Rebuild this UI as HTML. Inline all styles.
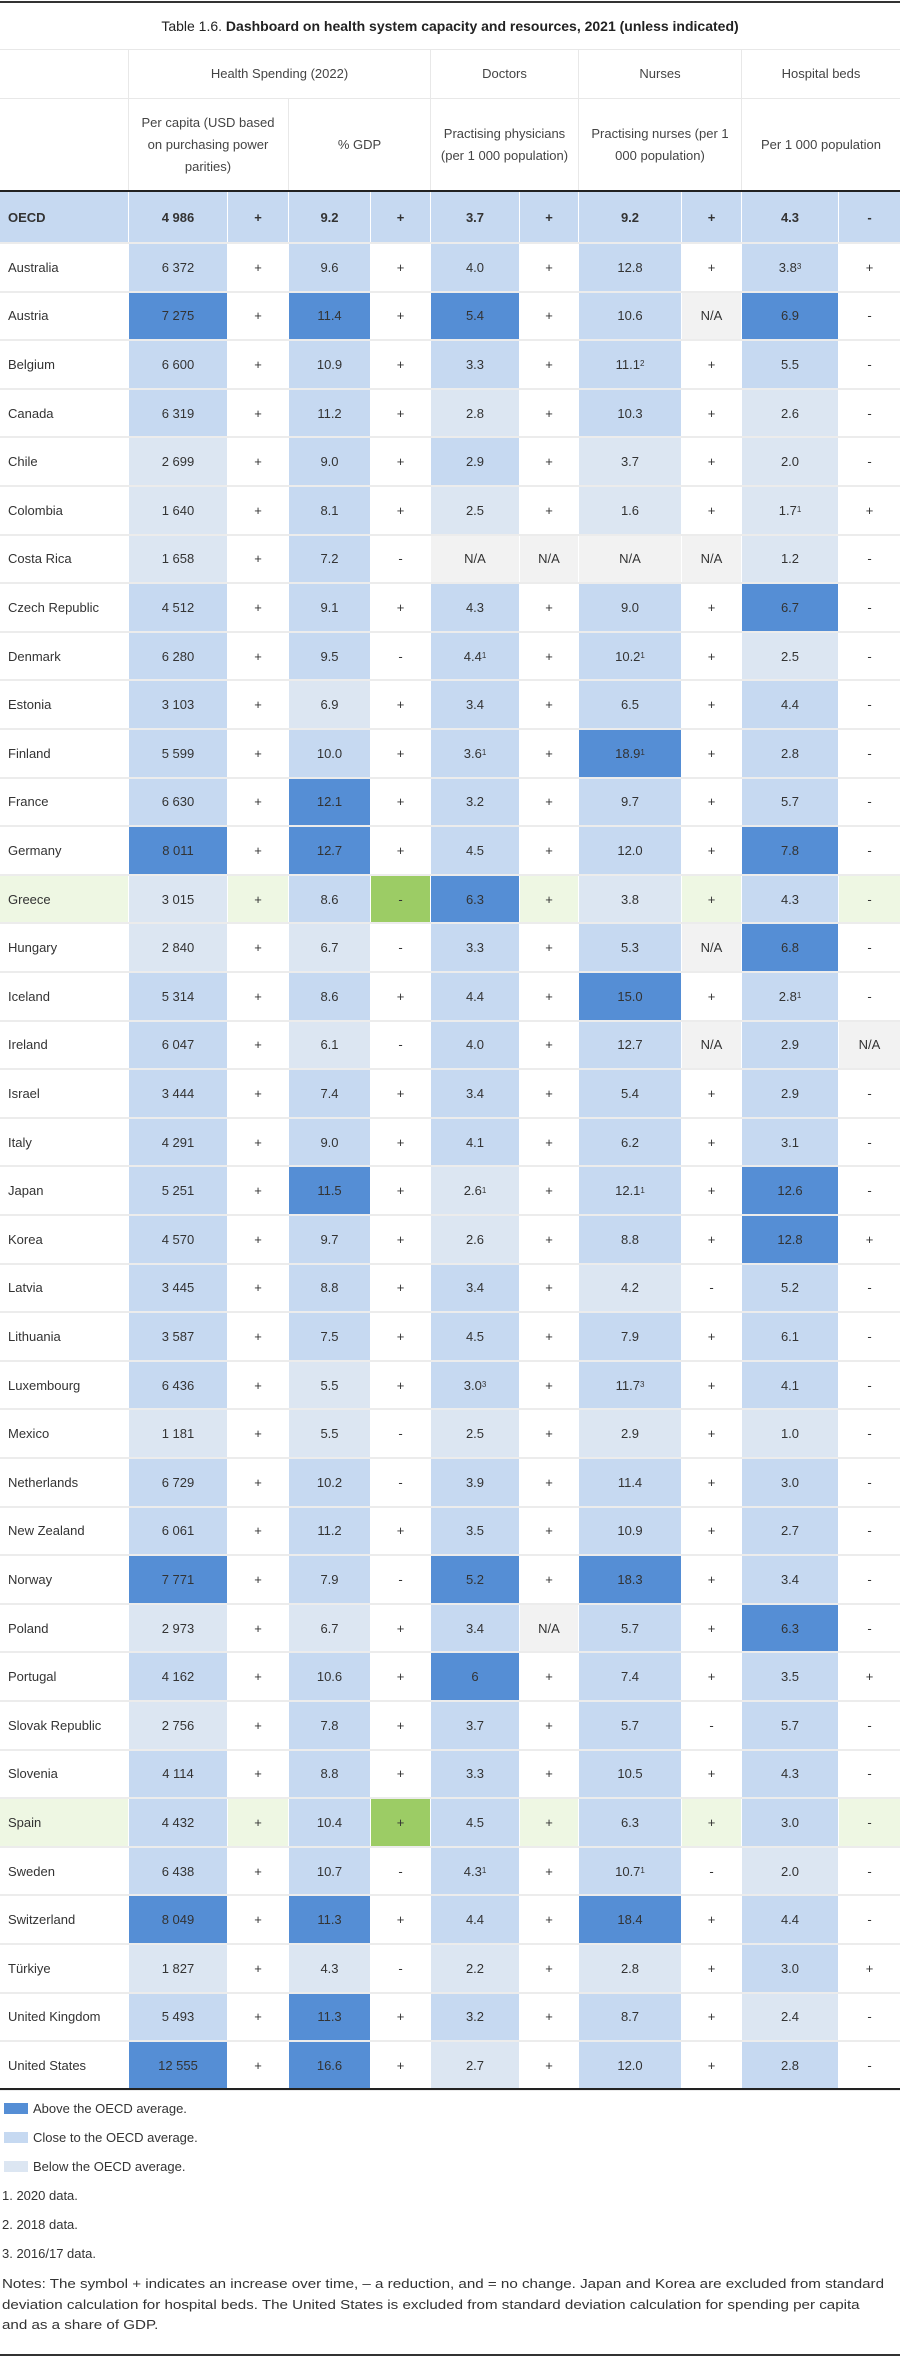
<!DOCTYPE html>
<html><head><meta charset="utf-8">
<style>
*{box-sizing:border-box;margin:0;padding:0}
body{width:900px;height:2357px;background:#fff;font-family:"Liberation Sans",Arial,sans-serif;color:#333;position:relative;overflow:hidden}
.a{position:absolute}
.c{position:absolute;display:flex;align-items:center;justify-content:center;font-size:13px;text-align:center;line-height:17px}
.lbl{justify-content:flex-start;padding-left:8px}
.D{background:#558ed5}.C{background:#c6d9f1}.B{background:#dce6f2}.N{background:#f2f2f2}.G{background:#9ccc65}.H{background:#eef7e3}
sup{font-size:8px;vertical-align:6px;line-height:0}
.hd{position:absolute;display:flex;align-items:center;justify-content:center;text-align:center;font-size:13px;line-height:22px;color:#444}
.leg{position:absolute;left:4px;font-size:13px;color:#333;line-height:16px}
.sw{display:inline-block;width:24px;height:11px;vertical-align:-1px;margin-right:5px}
</style></head><body>
<div class="a" style="left:0;top:1px;width:900px;height:2px;background:#333"></div>
<div class="hd" style="left:0;top:3px;width:900px;height:46px;font-size:14px;color:#222">Table 1.6.&nbsp;<b>Dashboard on health system capacity and resources, 2021 (unless indicated)</b></div>
<div class="a" style="left:0;top:49px;width:900px;height:1px;background:#e8e8e8"></div>
<div class="a" style="left:128px;top:50px;width:1px;height:141px;background:#e8e8e8"></div>
<div class="a" style="left:430px;top:50px;width:1px;height:141px;background:#e8e8e8"></div>
<div class="a" style="left:578px;top:50px;width:1px;height:141px;background:#e8e8e8"></div>
<div class="a" style="left:741px;top:50px;width:1px;height:141px;background:#e8e8e8"></div>
<div class="a" style="left:288px;top:99px;width:1px;height:92px;background:#e8e8e8"></div>
<div class="a" style="left:0;top:98px;width:900px;height:1px;background:#e8e8e8"></div>
<div class="hd" style="left:129px;top:50px;width:301px;height:48px">Health Spending (2022)</div>
<div class="hd" style="left:431px;top:50px;width:147px;height:48px">Doctors</div>
<div class="hd" style="left:579px;top:50px;width:162px;height:48px">Nurses</div>
<div class="hd" style="left:742px;top:50px;width:158px;height:48px">Hospital beds</div>
<div class="hd" style="left:133px;top:99px;width:150px;height:92px">Per capita (USD based on purchasing power parities)</div>
<div class="hd" style="left:289px;top:99px;width:141px;height:92px">% GDP</div>
<div class="hd" style="left:435px;top:99px;width:139px;height:92px">Practising physicians (per 1 000 population)</div>
<div class="hd" style="left:585px;top:99px;width:150px;height:92px">Practising nurses (per 1 000 population)</div>
<div class="hd" style="left:742px;top:99px;width:158px;height:92px">Per 1 000 population</div>
<div class="a" style="left:0;top:190px;width:900px;height:2px;background:#222"></div>
<div id="tbl"></div>
<div class="a" style="left:0;top:2088px;width:900px;height:2px;background:#222"></div>

<div class="leg" style="top:2101px"><span class="sw D"></span>Above the OECD average.</div>
<div class="leg" style="top:2130px"><span class="sw C"></span>Close to the OECD average.</div>
<div class="leg" style="top:2159px"><span class="sw B"></span>Below the OECD average.</div>
<div class="leg" style="top:2188px;left:2px">1. 2020 data.</div>
<div class="leg" style="top:2217px;left:2px">2. 2018 data.</div>
<div class="leg" style="top:2246px;left:2px">3. 2016/17 data.</div>
<div class="leg" style="top:2274px;left:2px;width:780px;line-height:20.5px;font-size:13px;white-space:nowrap;transform:scaleX(1.165);transform-origin:0 0">Notes: The symbol + indicates an increase over time, – a reduction, and = no change. Japan and Korea are excluded from standard<br>deviation calculation for hospital beds. The United States is excluded from standard deviation calculation for spending per capita<br>and as a share of GDP.</div>
<div class="a" style="left:0;top:2354px;width:900px;height:2px;background:#333"></div>

<script>
const countries=["OECD","Australia","Austria","Belgium","Canada","Chile","Colombia","Costa Rica","Czech Republic","Denmark","Estonia","Finland","France","Germany","Greece","Hungary","Iceland","Ireland","Israel","Italy","Japan","Korea","Latvia","Lithuania","Luxembourg","Mexico","Netherlands","New Zealand","Norway","Poland","Portugal","Slovak Republic","Slovenia","Spain","Sweden","Switzerland","Türkiye","United Kingdom","United States"];
const spendPerCapita=["4 986","6 372","7 275","6 600","6 319","2 699","1 640","1 658","4 512","6 280","3 103","5 599","6 630","8 011","3 015","2 840","5 314","6 047","3 444","4 291","5 251","4 570","3 445","3 587","6 436","1 181","6 729","6 061","7 771","2 973","4 162","2 756","4 114","4 432","6 438","8 049","1 827","5 493","12 555"];
const spendGdp=["9.2","9.6","11.4","10.9","11.2","9.0","8.1","7.2","9.1","9.5","6.9","10.0","12.1","12.7","8.6","6.7","8.6","6.1","7.4","9.0","11.5","9.7","8.8","7.5","5.5","5.5","10.2","11.2","7.9","6.7","10.6","7.8","8.8","10.4","10.7","11.3","4.3","11.3","16.6"];
const doctors=["3.7","4.0","5.4","3.3","2.8","2.9","2.5","N/A","4.3","4.4¹","3.4","3.6¹","3.2","4.5","6.3","3.3","4.4","4.0","3.4","4.1","2.6¹","2.6","3.4","4.5","3.0³","2.5","3.9","3.5","5.2","3.4","6","3.7","3.3","4.5","4.3¹","4.4","2.2","3.2","2.7"];
const nurses=["9.2","12.8","10.6","11.1²","10.3","3.7","1.6","N/A","9.0","10.2¹","6.5","18.9¹","9.7","12.0","3.8","5.3","15.0","12.7","5.4","6.2","12.1¹","8.8","4.2","7.9","11.7³","2.9","11.4","10.9","18.3","5.7","7.4","5.7","10.5","6.3","10.7¹","18.4","2.8","8.7","12.0"];
const beds=["4.3","3.8³","6.9","5.5","2.6","2.0","1.7¹","1.2","6.7","2.5","4.4","2.8","5.7","7.8","4.3","6.8","2.8¹","2.9","2.9","3.1","12.6","12.8","5.2","6.1","4.1","1.0","3.0","2.7","3.4","6.3","3.5","5.7","4.3","3.0","2.0","4.4","3.0","2.4","2.8"];
const levelSpend="CCDCCBBBCCCCCDBBCCCCCCCCCBCCDBCBCCCDBCD";
const levelGdp="CCDCCCCCCCBCDDCBCBCCDCCCBBCCCBCCCCCDBDD";
const levelDoctors="CCDCBCBNCCCCCCDCCCCCBBCCCBCCDCDCCCCCBCB";
const levelNurses="CCCCCBBNCCCDCCBCDCCCCCBCCBCCDCCCCCCDBCC";
const levelBeds="CCDCBBBBDBCCCDCDCCCCDDCCCBCCCDCCCCBCCBC";
const trendSpend="++++++++++"+"++++++++++"+"++++++++++"+"+++++++++";
const trendGdp="+++++++-+-"+"++++--+-++"+"+++++--+-+"+"++++-+-++";
const trendDoctors="+++++++X++"+"++++++++++"+"+++++++++X"+"+++++++++";
const trendNurses="++X++++X++"+"+++++X+X++"+"++-+++++++"+"+-++-++++";
const trendBeds="-+----+---"+"-------X--"+"-+--------"+"+-----+--";
const highlight=["Greece","Spain"];
const greenCell={"Greece":1,"Spain":1};
</script>
<script>
const colX=[0,129,228,289,371,431,520,579,682,742,839];
const colW=[128,98,60,81,59,88,58,102,59,96,61];
const tbl=document.getElementById('tbl');
function rowTop(i){return i===0?192:244+(i-1)*48.6;}
function rowH(i){return i===0?52:48.6;}
function fmt(v){return v.replace('¹','<sup>1</sup>').replace('²','<sup>2</sup>').replace('³','<sup>3</sup>');}
function sign(ch){return ch==='X'?'N/A':ch;}
const valCols=[spendPerCapita,spendGdp,doctors,nurses,beds];
const lvlCols=[levelSpend,levelGdp,levelDoctors,levelNurses,levelBeds];
const trCols=[trendSpend,trendGdp,trendDoctors,trendNurses,trendBeds];
for(let i=0;i<countries.length;i++){
  const name=countries[i];
  const hl=highlight.includes(name);
  const top=rowTop(i),h=rowH(i);
  const row=document.createElement('div');
  
  
  tbl.appendChild(row);
  const gl=document.createElement('div');
  gl.className='a';
  gl.style.cssText=`left:0;top:${top+h-2}px;width:900px;height:2px;background:#ececec`;
  
  
  row.appendChild(gl);
  const lab=document.createElement('div');
  lab.className='c lbl'+(i===0?' C':(hl?' H':''));
  lab.style.cssText=`left:${colX[0]}px;top:${top}px;width:${colW[0]}px;height:${h-2}px;`+(i===0?'font-weight:bold':'');
  lab.textContent=name;
  
  
  row.appendChild(lab);
  for(let k=0;k<5;k++){
    const v=document.createElement('div');
    const lv=lvlCols[k][i]||'C';
    v.className='c '+lv;
    v.style.cssText=`left:${colX[1+2*k]}px;top:${top}px;width:${colW[1+2*k]}px;height:${h-2}px;`+(i===0?'font-weight:bold':'');
    v.innerHTML=fmt(valCols[k][i]);
    
    
    row.appendChild(v);
    const s=document.createElement('div');
    const t=trCols[k][i]||'+';
    let cls='';
    if(i===0)cls='C';else if(t==='X')cls='N';else if(hl&&greenCell[name]===k)cls='G';else if(hl)cls='H';
    s.className='c '+cls;
    s.style.cssText=`left:${colX[2+2*k]}px;top:${top}px;width:${colW[2+2*k]}px;height:${h-2}px;`+(i===0?'font-weight:bold':'');
    s.textContent=sign(t);
    
    
    row.appendChild(s);
  }
}
</script>
</body></html>
